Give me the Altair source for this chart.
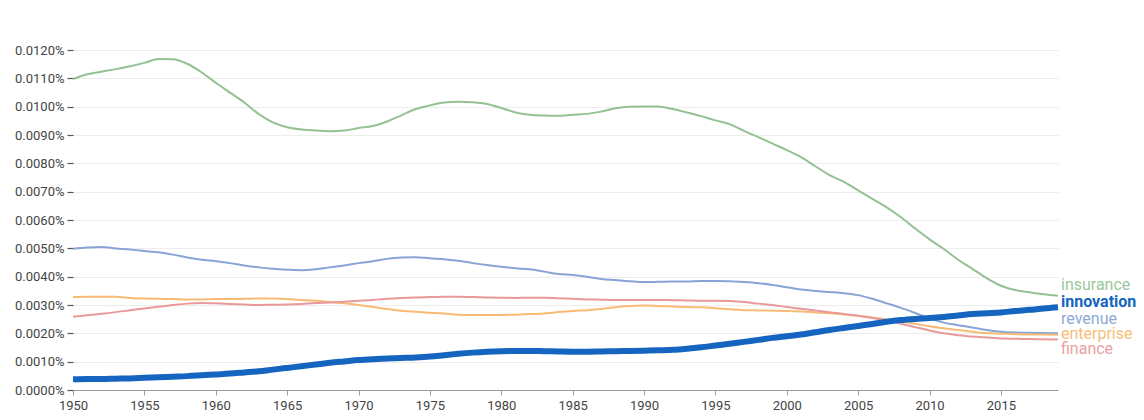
import altair as alt
import pandas as pd

years = list(range(1950, 2020))

insurance = [
    0.01098, 0.01115, 0.01124, 0.01133, 0.01143, 0.01155, 0.01169, 0.01168, 0.01152, 0.01122,
    0.01085, 0.01050, 0.01015, 0.00975, 0.00945, 0.00928, 0.00920, 0.00916, 0.00914, 0.00916,
    0.00925, 0.00932, 0.00948, 0.00970, 0.00992, 0.01005, 0.01015, 0.01018, 0.01016, 0.01010,
    0.00996, 0.00980, 0.00972, 0.00969, 0.00968, 0.00972, 0.00975, 0.00983, 0.00995, 0.01000,
    0.01001, 0.01001, 0.00992, 0.00980, 0.00967, 0.00952, 0.00939, 0.00915, 0.00893, 0.00870,
    0.00847, 0.00822, 0.00790, 0.00759, 0.00735, 0.00705, 0.00675, 0.00645, 0.00610, 0.00570,
    0.00532, 0.00498, 0.00460, 0.00428, 0.00395, 0.00368, 0.00353, 0.00345, 0.00338, 0.00333,
]

innovation = [
    0.00038, 0.00039, 0.00039, 0.00040, 0.00041, 0.00043, 0.00045, 0.00047, 0.00049, 0.00052,
    0.00055, 0.00058, 0.00062, 0.00066, 0.00072, 0.00078, 0.00084, 0.00090, 0.00096, 0.00101,
    0.00106, 0.00109, 0.00111, 0.00113, 0.00115, 0.00118, 0.00123, 0.00128, 0.00132, 0.00135,
    0.00137, 0.00138, 0.00138, 0.00137, 0.00136, 0.00135, 0.00135, 0.00136, 0.00137, 0.00138,
    0.00139, 0.00140, 0.00142, 0.00146, 0.00151, 0.00157, 0.00163, 0.00170, 0.00177, 0.00184,
    0.00190, 0.00196, 0.00204, 0.00212, 0.00219, 0.00226, 0.00233, 0.00241, 0.00247, 0.00251,
    0.00254, 0.00258, 0.00263, 0.00268, 0.00271, 0.00274, 0.00279, 0.00283, 0.00288, 0.00292,
]

revenue = [
    0.00499, 0.00503, 0.00505, 0.00500, 0.00496, 0.00491, 0.00486, 0.00478, 0.00468, 0.00460,
    0.00455, 0.00448, 0.00440, 0.00433, 0.00428, 0.00425, 0.00423, 0.00426, 0.00433, 0.00440,
    0.00448, 0.00455, 0.00463, 0.00468, 0.00469, 0.00465, 0.00462, 0.00456, 0.00448, 0.00441,
    0.00435, 0.00430, 0.00426, 0.00418, 0.00410, 0.00406, 0.00400, 0.00392, 0.00388, 0.00384,
    0.00381, 0.00382, 0.00383, 0.00383, 0.00385, 0.00385, 0.00384, 0.00381, 0.00377, 0.00371,
    0.00363, 0.00355, 0.00350, 0.00346, 0.00342, 0.00335, 0.00322, 0.00306, 0.00290, 0.00272,
    0.00253, 0.00238, 0.00229, 0.00221, 0.00212, 0.00206, 0.00203, 0.00202, 0.00201, 0.00200,
]

enterprise = [
    0.00328, 0.00329, 0.00329, 0.00329, 0.00325, 0.00323, 0.00322, 0.00321, 0.00320, 0.00320,
    0.00321, 0.00321, 0.00322, 0.00323, 0.00323, 0.00321, 0.00318, 0.00315, 0.00311, 0.00306,
    0.00300, 0.00293, 0.00286, 0.00280, 0.00276, 0.00273, 0.00270, 0.00266, 0.00265, 0.00265,
    0.00265, 0.00266, 0.00268, 0.00270, 0.00275, 0.00279, 0.00282, 0.00286, 0.00292, 0.00297,
    0.00298, 0.00297, 0.00295, 0.00293, 0.00292, 0.00289, 0.00285, 0.00282, 0.00281, 0.00280,
    0.00279, 0.00277, 0.00274, 0.00271, 0.00267, 0.00262, 0.00256, 0.00249, 0.00242, 0.00234,
    0.00225, 0.00218, 0.00212, 0.00206, 0.00201, 0.00199, 0.00197, 0.00196, 0.00196, 0.00195,
]

finance = [
    0.00259, 0.00264, 0.00269, 0.00275, 0.00282, 0.00288, 0.00294, 0.00300, 0.00305, 0.00307,
    0.00306, 0.00304, 0.00302, 0.00300, 0.00301, 0.00302, 0.00304, 0.00307, 0.00309, 0.00312,
    0.00315, 0.00318, 0.00322, 0.00325, 0.00327, 0.00328, 0.00329, 0.00329, 0.00328, 0.00327,
    0.00326, 0.00325, 0.00326, 0.00326, 0.00324, 0.00322, 0.00320, 0.00319, 0.00318, 0.00318,
    0.00318, 0.00318, 0.00317, 0.00316, 0.00315, 0.00315, 0.00314, 0.00311, 0.00305, 0.00300,
    0.00293, 0.00287, 0.00281, 0.00275, 0.00268, 0.00262, 0.00254, 0.00245, 0.00234, 0.00222,
    0.00210, 0.00200, 0.00193, 0.00189, 0.00185, 0.00182, 0.00181, 0.00180, 0.00179, 0.00178,
]

series_names = ["insurance", "innovation", "revenue", "enterprise", "finance"]
series_colors = ["#93c193", "#1565c0", "#88a4d6", "#f7bb74", "#e9999b"]
label_colors = ["#9cc79c", "#1565c0", "#8ea9d8", "#f7bd7a", "#eba0a2"]
# vertical anchors of the end labels (value units)
label_pos = [0.003706, 0.003106, 0.002506, 0.001976, 0.001447]
y_ticks = [i / 1000 for i in range(13)]
x_ticks = list(range(1950, 2020, 5))

all_values = [insurance, innovation, revenue, enterprise, finance]
rows = []
for name, vals in zip(series_names, all_values):
    for yr, v in zip(years, vals):
        rows.append({"year": yr, "value": v, "series": name})
df = pd.DataFrame(rows)

labels_df = pd.DataFrame({
    "series": series_names,
    "value": label_pos,
    "year": [years[-1]] * len(series_names),
})

FONT = "Roboto"

x_axis = alt.Axis(
    values=x_ticks, format="d", grid=False, title=None,
    domainColor="#9a9a9a", tickColor="#9a9a9a", tickSize=5,
    labelFont=FONT, labelFontSize=13, labelColor="#444444", labelPadding=4,
    labelFlush=False, labelOverlap=False,
)
x_enc = alt.X(
    "year:Q",
    scale=alt.Scale(domain=[1950, 2019], nice=False, zero=False),
    axis=x_axis,
)
y_axis = alt.Axis(
    values=y_ticks, title=None, domain=False,
    labelExpr="format(datum.value, '.4f') + '%'",
    tickColor="#555555", tickSize=6, tickWidth=1.2,
    gridColor="#ededed", gridWidth=1,
    labelFont=FONT, labelFontSize=13, labelColor="#444444", labelPadding=3,
    labelOverlap=False, labelFlush=False,
)
y_enc = alt.Y(
    "value:Q",
    scale=alt.Scale(domain=[0, 0.0125], nice=False, zero=True),
    axis=y_axis,
)
color_enc = alt.Color(
    "series:N",
    scale=alt.Scale(domain=series_names, range=series_colors),
    legend=None,
)
label_color_enc = alt.Color(
    "series:N",
    scale=alt.Scale(domain=series_names, range=label_colors),
    legend=None,
)

base = alt.Chart(df)

thin = base.transform_filter(alt.datum.series != "innovation").mark_line(
    strokeWidth=2, interpolate="monotone"
).encode(x=x_enc, y=y_enc, color=color_enc, detail="series:N")

thick = base.transform_filter(alt.datum.series == "innovation").mark_line(
    strokeWidth=6, interpolate="monotone"
).encode(x=x_enc, y=y_enc, color=color_enc)

lab_base = alt.Chart(labels_df)
labels_regular = lab_base.transform_filter(alt.datum.series != "innovation").mark_text(
    align="left", baseline="middle", dx=3, font=FONT, fontSize=16
).encode(
    x=x_enc,
    y=y_enc,
    text="series:N",
    color=label_color_enc,
)
labels_bold = lab_base.transform_filter(alt.datum.series == "innovation").mark_text(
    align="left", baseline="middle", dx=3, font=FONT, fontSize=16, fontWeight="bold"
).encode(
    x=x_enc,
    y=y_enc,
    text="series:N",
    color=label_color_enc,
)

chart = alt.layer(thin, thick, labels_regular, labels_bold).resolve_scale(
    color="independent"
).properties(
    width=985,
    height=354,
    autosize=alt.AutoSizeParams(type="none"),
    padding={"left": 73, "top": 36, "right": 86, "bottom": 30},
    background="white",
).configure_view(stroke=None)

chart.save("out.html", embed_options={"renderer": "svg", "actions": False})
